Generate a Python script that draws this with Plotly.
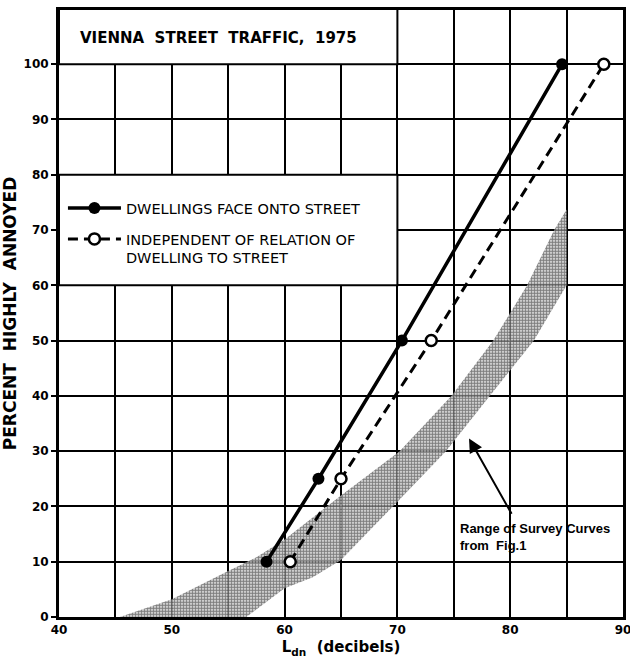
import plotly.graph_objects as go

# Noise exposure level (Ldn, dB) vs. percent highly annoyed
face_x = [58.4, 63.0, 70.4, 84.6]
face_y = [10, 25, 50, 100]
indep_x = [60.5, 65.0, 73.0, 88.3]
indep_y = [10, 25, 50, 100]

# Envelope of the survey curves (upper / lower edge)
band_upper_x = [45.4, 50, 55, 57.5, 60, 65, 70.2, 74.8, 78.5, 81.5, 83.9, 85.0]
band_upper_y = [0, 3.2, 8.3, 10.8, 14, 22, 30, 40, 50, 60, 70, 73.7]
band_lower_x = [56.6, 60, 62.5, 65, 69.6, 74.3, 78.2, 82.1, 85.0]
band_lower_y = [0, 5.2, 7.2, 10.3, 20, 30, 40, 50, 60]

x_ticks = [40, 50, 60, 70, 80, 90]
y_ticks = [0, 10, 20, 30, 40, 50, 60, 70, 80, 90, 100]

title_text = "VIENNA  STREET  TRAFFIC,  1975"
face_name = "DWELLINGS FACE ONTO STREET"
indep_name = "INDEPENDENT OF RELATION OF<br>DWELLING TO STREET"
band_note = "Range of Survey Curves<br>from  Fig.1"

FONT = "DejaVu Sans"

fig = go.Figure()

band_x = band_upper_x + band_lower_x[::-1]
band_y = band_upper_y + band_lower_y[::-1]
fig.add_trace(go.Scatter(
    x=band_x, y=band_y, mode="lines", fill="toself",
    line=dict(width=0, color="rgba(0,0,0,0)"),
    fillcolor="rgba(255,255,255,0.75)",
    fillpattern=dict(shape=".", fgcolor="#000000", size=3, solidity=0.7),
    showlegend=False, hoverinfo="skip",
))

fig.add_trace(go.Scatter(
    x=face_x, y=face_y, mode="lines+markers", name=face_name,
    line=dict(color="black", width=3.5),
    marker=dict(symbol="circle", size=12, color="black"),
    legendgroup="a",
))
fig.add_trace(go.Scatter(
    x=indep_x, y=indep_y, mode="lines+markers", name=indep_name,
    line=dict(color="black", width=3, dash="10px,6px"),
    marker=dict(symbol="circle", size=11, color="white",
                line=dict(color="black", width=2.5)),
    legendgroup="b",
))

# White panels for the title and the legend
fig.add_shape(type="rect", x0=40, x1=70, y0=100, y1=110,
              fillcolor="white", line=dict(color="black", width=2),
              layer="between")
fig.add_shape(type="rect", x0=40, x1=70, y0=60, y1=80,
              fillcolor="white", line=dict(color="black", width=2),
              layer="between")

fig.add_annotation(
    text="<b>" + title_text + "</b>", xref="paper", yref="paper",
    x=0.034, y=0.954, xanchor="left", yanchor="middle", showarrow=False,
    font=dict(family=FONT, size=15, color="black"),
)

fig.add_annotation(
    x=76.35, y=32.3, ax=80.2, ay=18.4, xref="x", yref="y",
    axref="x", ayref="y", text="", showarrow=True,
    arrowhead=2, arrowsize=1.4, arrowwidth=2, arrowcolor="black",
)
fig.add_annotation(
    text="<b>" + band_note + "</b>", x=75.4, y=14.4, xref="x", yref="y",
    xanchor="left", yanchor="middle", align="left", showarrow=False,
    font=dict(family="Liberation Sans", size=13, color="black"),
)

fig.update_layout(
    width=630, height=660, autosize=False,
    margin=dict(l=59, r=7, t=10, b=43),
    plot_bgcolor="white", paper_bgcolor="white",
    showlegend=True,
    legend=dict(
        x=0.007, y=0.70, xanchor="left", yanchor="top",
        bgcolor="rgba(0,0,0,0)", valign="top",
        font=dict(family=FONT, size=14.5, color="black"),
        tracegroupgap=9, itemwidth=53,
    ),
    xaxis=dict(
        range=[40, 90], tickvals=x_ticks, automargin=False,
        ticklabeloverflow="allow",
        showgrid=True, gridcolor="black", gridwidth=2,
        minor=dict(dtick=5, showgrid=True, gridcolor="black", gridwidth=2),
        showline=True, linecolor="black", linewidth=3, mirror=True,
        zeroline=False, ticks="",
        tickfont=dict(family=FONT, size=12, color="black", weight="bold"),
        title=dict(text="<b>L<sub>dn</sub>  (decibels)</b>", standoff=6,
                   font=dict(family=FONT, size=15, color="black")),
    ),
    yaxis=dict(
        range=[0, 109.8], tickvals=y_ticks, automargin=False,
        ticklabeloverflow="allow",
        showgrid=True, gridcolor="black", gridwidth=2,
        showline=True, linecolor="black", linewidth=3, mirror=True,
        zeroline=False, ticks="outside", ticklen=5, tickwidth=2,
        tickcolor="black",
        tickfont=dict(family=FONT, size=12, color="black", weight="bold"),
        title=dict(text="<b>PERCENT  HIGHLY  ANNOYED</b>", standoff=4,
                   font=dict(family=FONT, size=17, color="black")),
    ),
)

fig.write_html("out.html")
